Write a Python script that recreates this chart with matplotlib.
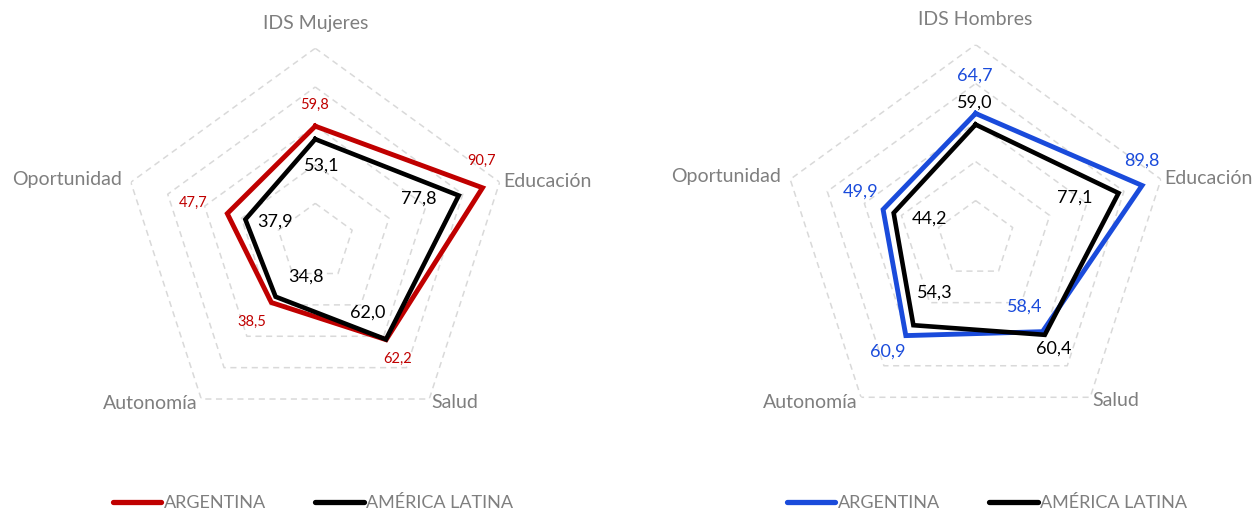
import matplotlib.pyplot as plt
import numpy as np

plt.rcParams['font.family'] = ['Lato', 'DejaVu Sans']

# categories, clockwise from top
categorias_m = ['IDS Mujeres', 'Educación', 'Salud', 'Autonomía', 'Oportunidad']
categorias_h = ['IDS Hombres', 'Educación', 'Salud', 'Autonomía', 'Oportunidad']

# women
arg_mujeres = [59.8, 90.7, 62.2, 38.5, 47.7]
al_mujeres = [53.1, 77.8, 62.0, 34.8, 37.9]

# men
arg_hombres = [64.7, 89.8, 58.4, 60.9, 49.9]
al_hombres = [59.0, 77.1, 60.4, 54.3, 44.2]

series_names = ['ARGENTINA', 'AMÉRICA LATINA']
grid_levels = [20, 40, 60, 80, 100]

RED = '#C00000'
BLUE = '#1A4BDB'
BLACK = '#000000'
GRAY = '#7f7f7f'

# label offsets in pixels (dx right, dy down) from each vertex
off_arg_m = [(-1, -21), (-1, -27), (11, 19), (-20, 19), (-34, -11)]
off_al_m = [(6, 26), (-40, 3), (-18, -27), (30, -20), (30, 2)]
off_arg_h = [(-1, -38), (0, -25), (-18, -25), (-18, 16), (-23, -18)]
off_al_h = [(-1, -22), (-44, 4), (9, 14), (21, -33), (36, 6)]

# category label placement (radius, ha)
cat_pos = [(113, 'center'), (102, 'left'), (102, 'left'), (103, 'right'), (105, 'right')]


def fmt(v):
    return f'{v:.1f}'.replace('.', ',')


def radar(ax, cats, arg, al, arg_color, off_arg, off_al, arg_size, al_size):
    n = len(cats)
    angles = np.arange(n) * 2 * np.pi / n
    closed = np.append(angles, angles[0])

    ax.set_theta_offset(np.pi / 2)
    ax.set_theta_direction(-1)
    ax.set_ylim(0, 100)
    ax.set_xticks([])
    ax.set_yticks([])
    ax.grid(False)
    ax.spines['polar'].set_visible(False)
    ax.patch.set_visible(False)

    for lvl in grid_levels:
        ax.plot(closed, [lvl] * (n + 1), color='#d9d9d9', lw=1.1,
                ls=(0, (4, 3)), zorder=1)

    ax.plot(closed, np.append(arg, arg[0]), color=arg_color, lw=3.5,
            solid_joinstyle='miter', zorder=3, label=series_names[0])
    ax.plot(closed, np.append(al, al[0]), color=BLACK, lw=3.3,
            solid_joinstyle='miter', zorder=4, label=series_names[1])

    for a, v, (dx, dy) in zip(angles, arg, off_arg):
        ax.annotate(fmt(v), (a, v), xytext=(dx, -dy), textcoords='offset pixels',
                    ha='center', va='center', color=arg_color, fontsize=arg_size,
                    zorder=5)
    for a, v, (dx, dy) in zip(angles, al, off_al):
        ax.annotate(fmt(v), (a, v), xytext=(dx, -dy), textcoords='offset pixels',
                    ha='center', va='center', color=BLACK, fontsize=al_size,
                    zorder=5)

    for a, c, (r, ha) in zip(angles, cats, cat_pos):
        ax.text(a, r, c, ha=ha, va='center', color=GRAY, fontsize=14)


fig = plt.figure(figsize=(12.56, 5.13), dpi=100)
ax1 = fig.add_axes([0.0965, 0.150, 0.309, 0.756], projection='polar')
ax2 = fig.add_axes([0.6215, 0.153, 0.3105, 0.760], projection='polar')

radar(ax1, categorias_m, arg_mujeres, al_mujeres, RED, off_arg_m, off_al_m, 10.5, 13)
radar(ax2, categorias_h, arg_hombres, al_hombres, BLUE, off_arg_h, off_al_h, 13, 13)

for ax, cx in [(ax1, 313 / 1256), (ax2, 987 / 1256)]:
    leg = ax.legend(loc='center', bbox_to_anchor=(cx, 1 - 503 / 513),
                    bbox_transform=fig.transFigure, ncol=2, frameon=False,
                    fontsize=13, handlelength=2.7, handletextpad=0.15,
                    columnspacing=2.7)
    for t in leg.get_texts():
        t.set_color(GRAY)
    for h in leg.get_lines():
        h.set_linewidth(3.8)
        h.set_solid_capstyle('round')

fig.savefig('out.png', dpi=100)
